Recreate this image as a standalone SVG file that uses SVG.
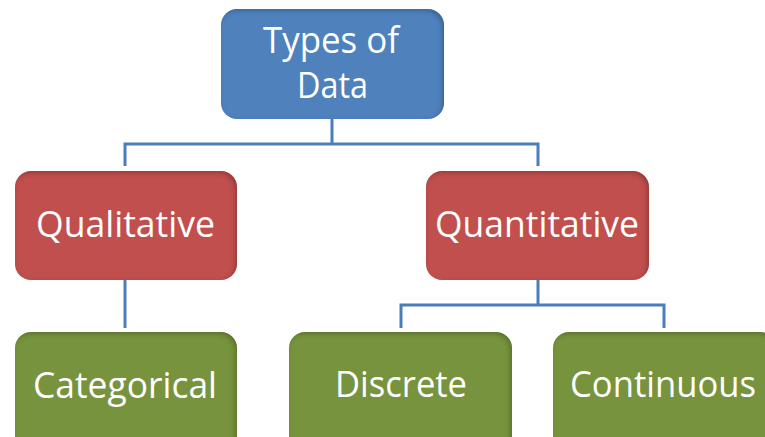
<svg xmlns="http://www.w3.org/2000/svg" width="765" height="437" viewBox="0 0 765 437">
<defs>
<filter id="inner" x="-5%" y="-5%" width="110%" height="110%">
<feFlood flood-color="#000" flood-opacity="0.45" result="f"/>
<feComposite in="f" in2="SourceAlpha" operator="out" result="o"/>
<feGaussianBlur in="o" stdDeviation="2.5" result="b"/>
<feOffset in="b" dx="-2" dy="2" result="s"/>
<feComposite in="s" in2="SourceAlpha" operator="in" result="is"/>
<feMerge><feMergeNode in="SourceGraphic"/><feMergeNode in="is"/></feMerge>
</filter>
<style>
.box{filter:url(#inner)}
.blue{fill:#4F81BD}
.red{fill:#C0504D}
.green{fill:#77933C}
.lbl{font-family:"Open Sans","Noto Sans",sans-serif;font-size:37px;fill:#fff;text-anchor:middle}
.conn{fill:none;stroke:#4A7EBB;stroke-width:3}
</style>
</defs>
<rect width="765" height="437" fill="#fff"/>
<g id="connectors">
<path class="conn" d="M332 119 V144 M125 166 V144 H538 V166"/>
<path class="conn" d="M125 280 V328"/>
<path class="conn" d="M538 280 V305 M401 328 V305 H664 V328"/>
</g>
<g id="types">
<rect class="box blue" x="221" y="9" width="223" height="110" rx="16"/>
<text class="lbl" x="331" y="53" textLength="136" lengthAdjust="spacingAndGlyphs">Types of</text>
<text class="lbl" x="332.5" y="98" textLength="71" lengthAdjust="spacingAndGlyphs">Data</text>
</g>
<g id="qualitative">
<rect class="box red" x="15" y="171" width="222" height="109" rx="16"/>
<text class="lbl" x="125.5" y="237" textLength="179" lengthAdjust="spacingAndGlyphs">Qualitative</text>
</g>
<g id="quantitative">
<rect class="box red" x="426" y="171" width="223" height="109" rx="16"/>
<text class="lbl" x="537" y="237" textLength="204" lengthAdjust="spacingAndGlyphs">Quantitative</text>
</g>
<g id="categorical">
<rect class="box green" x="15" y="332" width="222" height="125" rx="16"/>
<text class="lbl" x="125" y="398" textLength="184" lengthAdjust="spacingAndGlyphs">Categorical</text>
</g>
<g id="discrete">
<rect class="box green" x="289" y="332" width="223" height="125" rx="16"/>
<text class="lbl" x="401" y="397" textLength="132" lengthAdjust="spacingAndGlyphs">Discrete</text>
</g>
<g id="continuous">
<rect class="box green" x="553" y="332" width="223" height="125" rx="16"/>
<text class="lbl" x="663" y="397" textLength="186" lengthAdjust="spacingAndGlyphs">Continuous</text>
</g>
</svg>
